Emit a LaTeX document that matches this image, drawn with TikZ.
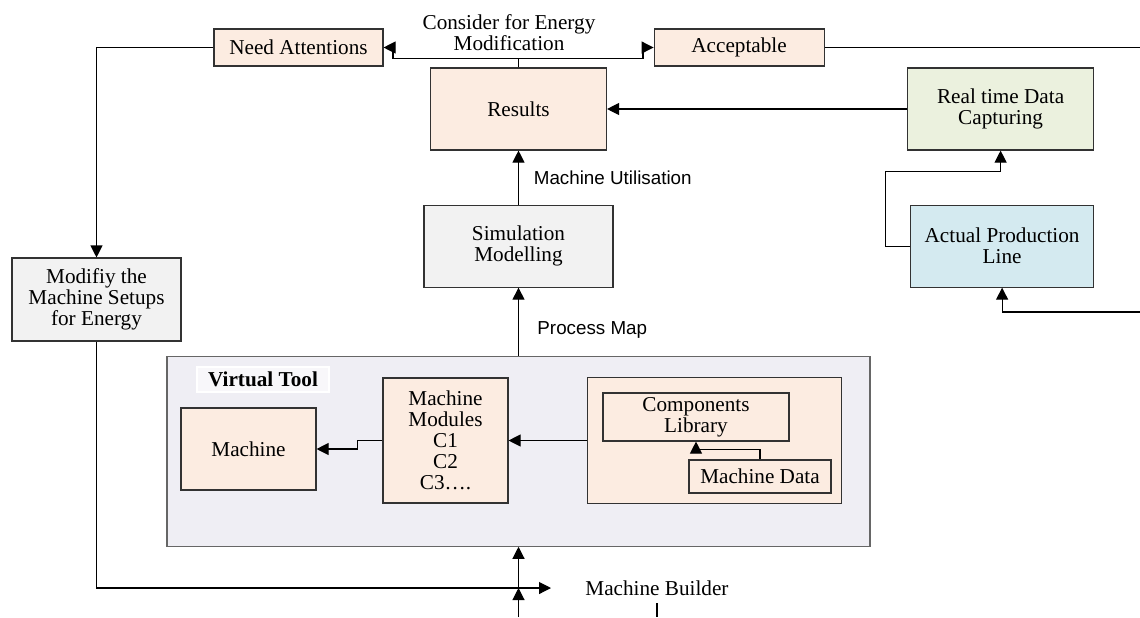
\documentclass[tikz,border=0pt]{standalone}
\usepackage{fontspec}
\setmainfont{Liberation Serif}
\newfontfamily\arialfont{Liberation Sans}
\usetikzlibrary{arrows.meta,positioning}
\definecolor{peach}{RGB}{252,236,225}
\definecolor{lightgrey}{RGB}{242,242,242}
\definecolor{lightolive}{RGB}{235,241,222}
\definecolor{lightcyan}{RGB}{212,234,240}
\definecolor{lavender}{RGB}{239,238,244}
\definecolor{boxline}{RGB}{50,50,50}

\begin{document}
\begin{tikzpicture}[
    x=0.5pt, y=-0.5pt,
    box/.style={draw=boxline, line width=0.55pt, fill=peach, align=center, inner sep=1pt, font=\fontsize{10.6}{10.5}\selectfont},
    arr/.style={-{Triangle[length=6pt,width=6pt]}, line width=0.55pt},
    lbl/.style={font=\arialfont\fontsize{9.4}{11}\selectfont, inner sep=0pt},
    txt/.style={align=center, inner sep=0pt, font=\fontsize{10.6}{10.5}\selectfont}
]
\useasboundingbox (0,0) rectangle (1140,617);

\node[box, minimum width=84.5pt, minimum height=18.5pt] (na) at (298.5,47.5) {Need Attentions};
\node[box, minimum width=85pt, minimum height=18.5pt, right=135pt of na] (acc) {Acceptable};
\node[txt] (cons) at (509,32.5) {Consider for Energy\\Modification};

\node[box, minimum width=88pt, minimum height=41pt] (res) at (518.5,109) {Results};
\node[box, fill=lightgrey, minimum width=94.5pt, minimum height=41pt, below=27pt of res] (sim) {Simulation\\Modelling};
\node[box, fill=lightolive, minimum width=93pt, minimum height=41pt, right=150pt of res] (rtdc) {Real time Data\\Capturing};
\node[box, fill=lightcyan, minimum width=91.5pt, minimum height=41pt, below=27pt of rtdc.south east, anchor=north east] (apl) {Actual Production\\Line};
\node[box, fill=lightgrey, minimum width=84.5pt, minimum height=41.5pt] (mod) at (96.5,299.5) {Modifiy the\\Machine Setups\\for Energy};

\node[box, draw=gray!80!black, fill=lavender, minimum width=351.5pt, minimum height=95pt, below=34pt of sim] (vt) {};
\node[box, draw=white, fill=white!55!lavender, minimum width=66pt, minimum height=12.5pt, font=\fontsize{10.6}{10.5}\selectfont\bfseries] (vtl) at (263,379.5) {Virtual Tool};
\node[box, minimum width=67.5pt, minimum height=41pt] (mach) at (248.5,449) {Machine};
\node[box, minimum width=62.5pt, minimum height=62.5pt] (mm) at (445.5,440.5) {Machine\\Modules\\C1\\C2\\C3\dots.};
\node[box, minimum width=127pt, minimum height=63pt, right=39pt of mm] (comp) {};
\node[box, minimum width=93pt, minimum height=24pt] (cl) at (696,417) {Components\\Library};
\node[box, minimum width=71pt, minimum height=16.5pt] (md) at (760,476.5) {Machine Data};

\node[txt, anchor=west] (mb) at (585,588) {Machine Builder};
\coordinate (accend) at (1140,47.5);
\coordinate (aplin) at (1140,312);
\coordinate (mbarrow) at (551,588);
\coordinate (mbjoin) at (518.5,588);
\coordinate (mbbot) at (518.5,617);
\coordinate (stubtop) at (657,603);
\coordinate (stubbot) at (657,617);

\draw[arr] (res.north) |- ++(-125.5,-9) |- (na.east);
\draw[arr] (res.north) |- ++(124.5,-9) |- (acc.west);
\draw[line width=0.55pt] (acc.east) -- (accend);
\draw[arr] (na.west) -| (mod.north);
\draw[arr] (rtdc.west) -- (res.east);
\draw[arr] (sim) -- node[lbl, right=7.4pt] {Machine Utilisation} (res);
\draw[arr] (vt) -- node[lbl, pos=0.38, right=9.2pt] {Process Map} (sim);
\draw[arr] (apl.west) -| ++(-25,-75) -| (rtdc.south);
\draw[arr] (aplin) -| (apl.south);
\draw[arr] (mod.south) |- (mbarrow);
\draw[arr] (mbbot) -- (mbjoin);
\draw[arr] (mbjoin) -- (vt.south);
\draw[line width=0.55pt] (stubtop) -- (stubbot);
\draw[arr] (mm.west) -- ++(-25,0) |- (mach.east);
\draw[arr] (comp.west) -- (mm.east);
\draw[arr] (md.north) -- ++(0,-10) -| (cl.south);
\end{tikzpicture}
\end{document}
